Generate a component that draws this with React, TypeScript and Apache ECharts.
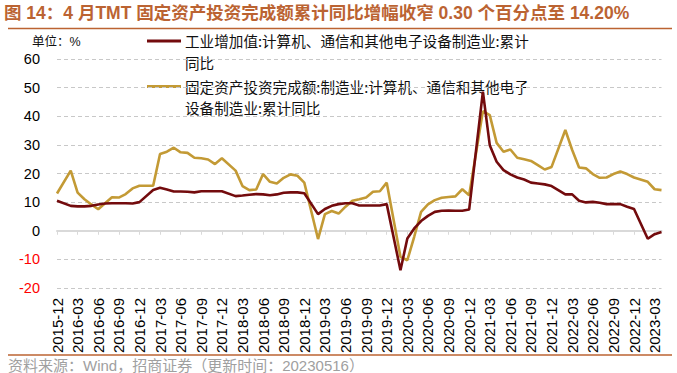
import React, { useEffect, useRef } from "react";
import * as echarts from "echarts";

const months = [
  "2015-12",
  "2016-01", "2016-02", "2016-03", "2016-04", "2016-05", "2016-06", "2016-07", "2016-08", "2016-09", "2016-10", "2016-11", "2016-12",
  "2017-01", "2017-02", "2017-03", "2017-04", "2017-05", "2017-06", "2017-07", "2017-08", "2017-09", "2017-10", "2017-11", "2017-12",
  "2018-01", "2018-02", "2018-03", "2018-04", "2018-05", "2018-06", "2018-07", "2018-08", "2018-09", "2018-10", "2018-11", "2018-12",
  "2019-01", "2019-02", "2019-03", "2019-04", "2019-05", "2019-06", "2019-07", "2019-08", "2019-09", "2019-10", "2019-11", "2019-12",
  "2020-01", "2020-02", "2020-03", "2020-04", "2020-05", "2020-06", "2020-07", "2020-08", "2020-09", "2020-10", "2020-11", "2020-12",
  "2021-01", "2021-02", "2021-03", "2021-04", "2021-05", "2021-06", "2021-07", "2021-08", "2021-09", "2021-10", "2021-11", "2021-12",
  "2022-01", "2022-02", "2022-03", "2022-04", "2022-05", "2022-06", "2022-07", "2022-08", "2022-09", "2022-10", "2022-11", "2022-12",
  "2023-01", "2023-02", "2023-03", "2023-04",
];

// 工业增加值:计算机、通信和其他电子设备制造业:累计同比 (January not published)
const industrialValueAdded = [
  10.5,
  null, 8.7, 8.5, 8.5, 8.7, 9.2, 9.5, 9.6, 9.6, 9.6, 9.5, 10.0,
  null, 14.2, 15.0, 14.4, 13.7, 13.7, 13.6, 13.4, 13.8, 13.8, 13.8, 13.8,
  null, 12.1, 12.3, 12.6, 12.8, 12.7, 12.4, 12.7, 13.3, 13.4, 13.4, 13.1,
  null, 5.8, 7.6, 8.7, 9.3, 9.6, 9.6, 8.8, 8.8, 8.8, 8.8, 9.3,
  null, -13.8, -2.7, 0.8, 3.4, 5.2, 6.6, 7.0, 7.1, 7.0, 7.0, 7.4,
  null, 48.6, 29.9, 24.1, 21.2, 19.7, 18.6, 17.9, 16.8, 16.5, 16.2, 15.6,
  null, 12.7, 12.7, 10.5, 9.9, 10.1, 9.8, 9.3, 9.3, 9.3, 8.4, 7.6,
  null, -2.8, -1.2, -0.4,
];

// 固定资产投资完成额:制造业:计算机、通信和其他电子设备制造业:累计同比
const fixedAssetInvestment = [
  13.0,
  null, 21.0, 13.3, 11.0, 9.2, 7.5, 9.6, 11.7, 11.6, 12.8, 14.8, 15.7,
  null, 15.7, 26.8, 27.6, 29.0, 27.4, 27.2, 25.5, 25.3, 24.9, 23.3, 25.3,
  null, 21.0, 15.6, 14.2, 14.4, 19.8, 17.1, 16.5, 18.5, 19.7, 19.2, 16.8,
  null, -2.9, 5.8, 6.9, 6.0, 8.4, 10.5, 11.0, 11.6, 13.6, 13.8, 16.8,
  null, -9.1, -10.3, -2.1, 6.6, 9.2, 10.7, 11.5, 11.8, 12.0, 14.5, 12.4,
  null, 41.8, 40.4, 30.7, 27.6, 28.4, 25.5, 25.0, 24.4, 22.9, 21.4, 22.3,
  null, 35.2, 28.2, 22.1, 21.8, 19.8, 18.5, 18.6, 19.8, 20.7, 19.8, 18.6,
  null, 17.1, 14.5, 14.2,
];

const seriesNames = [
  "工业增加值:计算机、通信和其他电子设备制造业:累计同比",
  "固定资产投资完成额:制造业:计算机、通信和其他电子设备制造业:累计同比",
];
const legendLabels = [
  "工业增加值:计算机、通信和其他电子设备制造业:累计\n同比",
  "固定资产投资完成额:制造业:计算机、通信和其他电子\n设备制造业:累计同比",
];
const titleText = "图 14：4 月TMT 固定资产投资完成额累计同比增幅收窄 0.30 个百分点至 14.20%";
const sourceText = "资料来源：Wind，招商证券（更新时间：20230516）";
const unitText = "单位：%";

const RED = "#730b0d";
const GOLD = "#c39a35";
const ACCENT = "#bb6332";
const CJK = "'Liberation Sans', Arial, 'Noto Sans CJK SC', sans-serif";
const LEGEND_FONT = "14.6px 'Noto Sans CJK SC', sans-serif";
const LEGEND_LH = 21.3;

export default function App() {
  const ref = useRef<HTMLDivElement>(null);
  useEffect(() => {
    if (!ref.current) return;
    const chart = echarts.init(ref.current, null, { renderer: "svg" });
    const legendY = [41, 86.5];
    const legendColors = [RED, GOLD];
    const legendGraphics: any[] = [];
    legendLabels.forEach((label, i) => {
      legendGraphics.push({
        type: "line",
        shape: { x1: 147, y1: legendY[i], x2: 181, y2: legendY[i] },
        style: { stroke: legendColors[i], lineWidth: 3 },
      });
      legendGraphics.push({
        type: "text",
        x: 185,
        y: legendY[i] - LEGEND_LH / 2,
        style: {
          text: label,
          font: LEGEND_FONT,
          lineHeight: LEGEND_LH,
          fill: "#111",
          verticalAlign: "top",
        },
      });
    });
    chart.setOption({
      animation: false,
      backgroundColor: "#fff",
      title: {
        text: titleText,
        left: 4,
        top: 4,
        padding: 0,
        textStyle: { fontFamily: CJK, fontSize: 17.5, fontWeight: "bold", color: ACCENT },
      },
      graphic: [
        { type: "line", shape: { x1: 8, y1: 28.5, x2: 672, y2: 28.5 }, style: { stroke: ACCENT, lineWidth: 1.5 } },
        { type: "line", shape: { x1: 8, y1: 355, x2: 672, y2: 355 }, style: { stroke: ACCENT, lineWidth: 1.5 } },
        {
          type: "text",
          x: 8,
          y: 365,
          style: { text: sourceText, font: "15px 'Liberation Sans', Arial, 'Noto Sans CJK SC'", fill: "#a0a0a0", verticalAlign: "middle" },
        },
        {
          type: "text",
          x: 32,
          y: 42,
          style: { text: unitText, font: "12.5px 'Liberation Sans', Arial, 'Noto Sans CJK SC'", fill: "#111", verticalAlign: "middle" },
        },
        ...legendGraphics,
      ],
      grid: { left: 57, right: 15.5, top: 59, bottom: 85, containLabel: false },
      xAxis: [
        {
          type: "category",
          data: months,
          boundaryGap: false,
          position: "bottom",
          axisLine: { show: false, onZero: false },
          axisTick: { show: false },
          splitLine: { show: false },
          axisLabel: {
            interval: 2,
            rotate: 90,
            margin: 10,
            fontSize: 15,
            fontFamily: "'Liberation Sans', Arial",
            color: "#000",
          },
        },
        {
          type: "category",
          data: months,
          boundaryGap: false,
          position: "bottom",
          axisLine: { show: true, onZero: true, lineStyle: { color: "#d9d9d9", width: 2 } },
          axisTick: { show: true, interval: 2, length: 4, lineStyle: { color: "#d9d9d9", width: 1 } },
          axisLabel: { show: false },
          splitLine: { show: false },
        },
      ],
      yAxis: {
        type: "value",
        min: -20,
        max: 60,
        interval: 10,
        axisLine: { show: false },
        axisTick: { show: false },
        axisLabel: {
          margin: 17,
          fontSize: 14.5,
          fontFamily: "'Liberation Sans', Arial",
          color: (v: any) => (Number(v) < 0 ? "#ff0000" : "#000"),
        },
        splitLine: { show: true, lineStyle: { color: "#c8c8c8", type: [4, 3], width: 1 } },
      },
      series: [
        {
          name: seriesNames[0],
          type: "line",
          xAxisIndex: 0,
          data: industrialValueAdded,
          connectNulls: true,
          showSymbol: false,
          symbol: "none",
          z: 3,
          lineStyle: { color: RED, width: 2.6 },
          itemStyle: { color: RED },
        },
        {
          name: seriesNames[1],
          type: "line",
          xAxisIndex: 0,
          data: fixedAssetInvestment,
          connectNulls: true,
          showSymbol: false,
          symbol: "none",
          z: 2,
          lineStyle: { color: GOLD, width: 2.6 },
          itemStyle: { color: GOLD },
        },
      ],
    });
    return () => chart.dispose();
  }, []);
  return (
    <div
      ref={ref}
      style={{ position: "fixed", left: 0, top: 0, width: 677, height: 373, background: "#fff" }}
    />
  );
}
